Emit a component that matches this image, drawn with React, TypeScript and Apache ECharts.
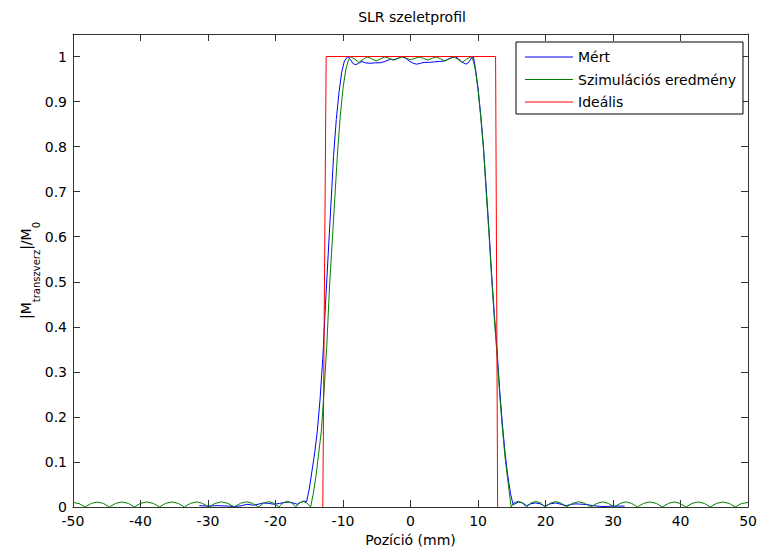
import React, { useEffect, useRef } from "react";
import * as echarts from "echarts";

// Labels
const chartTitle = "SLR szeletprofil";
const xAxisTitle = "Pozíció (mm)";
const yAxisTitleRich = "{m||M}{s|transzverz}{m||/M}{s|0}";
const seriesNames = ["Mért", "Szimulációs eredmény", "Ideális"];
const seriesColors = ["#0000ff", "#008000", "#ff0000"];

// Axis ranges
const xRange = [-50, 50];
const xStep = 10;
const yRange = [0, 1.05];
const yStep = 0.1;

// Measured slice profile: [position (mm), |Mxy|/M0]
const measuredProfile: [number, number][] = [
  [-31.3, 0.003], [-30.0, 0.002], [-28.5, 0.003], [-27.0, 0.002], [-26.0, 0.001],
  [-25.0, 0.003], [-24.2, 0.006], [-23.3, 0.004], [-22.6, 0.006], [-21.8, 0.009],
  [-21.0, 0.008], [-20.2, 0.006], [-19.4, 0.008], [-18.7, 0.01], [-18.0, 0.011],
  [-17.4, 0.009], [-16.8, 0.006], [-16.2, 0.011], [-15.8, 0.013], [-15.4, 0.012],
  [-15.0, 0.04], [-14.6, 0.08], [-14.2, 0.12], [-13.8, 0.17], [-13.4, 0.24],
  [-13.0, 0.33], [-12.6, 0.45], [-12.2, 0.56], [-11.8, 0.67], [-11.4, 0.78],
  [-11.0, 0.86], [-10.6, 0.92], [-10.2, 0.965], [-9.8, 0.99], [-9.3, 1.0],
  [-8.9, 0.993], [-8.5, 0.984], [-8.1, 0.982], [-7.7, 0.985], [-7.2, 0.989],
  [-6.7, 0.986], [-6.0, 0.985], [-5.2, 0.986], [-4.5, 0.986], [-3.8, 0.989],
  [-3.0, 0.994], [-2.4, 0.993], [-1.8, 0.996], [-1.3, 1.0], [-0.8, 0.997],
  [-0.2, 0.99], [0.4, 0.985], [0.9, 0.983], [1.5, 0.985], [2.0, 0.987],
  [2.8, 0.987], [3.5, 0.988], [4.3, 0.989], [5.0, 0.99], [5.8, 0.996],
  [6.6, 1.0], [7.1, 0.995], [7.6, 0.988], [8.2, 0.983], [8.6, 0.987],
  [9.0, 0.996], [9.3, 1.0], [9.6, 0.975], [10.0, 0.93], [10.4, 0.87],
  [10.8, 0.8], [11.2, 0.71], [11.6, 0.62], [12.0, 0.52], [12.4, 0.43],
  [12.8, 0.35], [13.2, 0.26], [13.6, 0.185], [14.0, 0.12], [14.4, 0.07],
  [14.8, 0.03], [15.2, 0.005], [15.6, 0.008], [16.0, 0.011], [16.5, 0.01],
  [17.2, 0.003], [17.8, 0.007], [18.5, 0.009], [19.2, 0.007], [19.9, 0.002],
  [20.7, 0.007], [21.5, 0.009], [22.3, 0.006], [23.1, 0.003], [23.8, 0.006],
  [24.5, 0.007], [25.5, 0.006], [26.3, 0.005], [27.0, 0.003], [28.5, 0.001],
  [30.0, 0.002], [31.7, 0.002],
];

// Simulated slice profile
const simulatedProfile: [number, number][] = [
  [-50, 0.01], [-49.1, 0.0075], [-48.2, 0], [-47.3, 0.008], [-46.4, 0.011],
  [-45.5, 0.008], [-44.6, 0], [-43.7, 0.008], [-42.75, 0.0112], [-41.8, 0.008],
  [-40.9, 0], [-40.0, 0.008], [-39.05, 0.0113], [-38.1, 0.008], [-37.2, 0],
  [-36.3, 0.008], [-35.35, 0.0113], [-34.4, 0.008], [-33.5, 0], [-32.6, 0.008],
  [-31.7, 0.0114], [-30.8, 0.008], [-29.9, 0], [-28.95, 0.008], [-28.0, 0.0115],
  [-27.05, 0.008], [-26.1, 0], [-25.2, 0.0082], [-24.3, 0.0116], [-23.4, 0.0082],
  [-22.5, 0], [-21.75, 0.0085], [-21.0, 0.012], [-20.25, 0.0085], [-19.5, 0],
  [-18.9, 0.009], [-18.25, 0.0125], [-17.6, 0.009], [-17.0, 0], [-16.45, 0.009],
  [-15.9, 0.0125], [-15.35, 0.009], [-14.8, 0], [-14.4, 0.03], [-14.0, 0.07],
  [-13.6, 0.12], [-13.2, 0.17], [-12.8, 0.26], [-12.4, 0.36], [-12.0, 0.49],
  [-11.6, 0.59], [-11.2, 0.69], [-10.8, 0.79], [-10.4, 0.87], [-10.0, 0.93],
  [-9.6, 0.97], [-9.2, 0.992], [-8.9, 1.0], [-8.25, 0.994], [-7.65, 0.987],
  [-7.0, 0.994], [-6.4, 0.999], [-5.75, 0.995], [-5.1, 0.99], [-4.45, 0.995],
  [-3.8, 0.999], [-3.15, 0.996], [-2.55, 0.992], [-1.9, 0.996], [-1.3, 0.999],
  [-0.65, 0.996], [0, 0.993], [0.65, 0.996], [1.3, 0.999], [1.9, 0.996],
  [2.55, 0.992], [3.15, 0.996], [3.8, 0.999], [4.45, 0.995], [5.1, 0.99],
  [5.75, 0.995], [6.35, 0.999], [7.0, 0.994], [7.65, 0.987], [8.3, 0.994],
  [9.0, 1.0], [9.3, 0.99], [9.6, 0.97], [10.0, 0.925], [10.4, 0.865],
  [10.8, 0.795], [11.2, 0.7], [11.6, 0.61], [12.0, 0.51], [12.4, 0.42],
  [12.8, 0.34], [13.2, 0.25], [13.6, 0.175], [14.0, 0.11], [14.4, 0.06],
  [14.9, 0], [15.3, 0.009], [15.9, 0.0125], [16.55, 0.009], [17.2, 0],
  [17.85, 0.009], [18.55, 0.0125], [19.25, 0.009], [19.9, 0], [20.7, 0.0085],
  [21.5, 0.012], [22.3, 0.0085], [23.1, 0], [24.0, 0.0082], [24.9, 0.0116],
  [25.8, 0.0082], [26.7, 0], [27.6, 0.008], [28.45, 0.0115], [29.3, 0.008],
  [30.2, 0], [31.05, 0.008], [31.9, 0.0114], [32.75, 0.008], [33.6, 0],
  [34.5, 0.008], [35.45, 0.0113], [36.4, 0.008], [37.3, 0], [38.2, 0.008],
  [39.05, 0.0113], [39.9, 0.008], [40.8, 0], [41.7, 0.008], [42.6, 0.0112],
  [43.5, 0.008], [44.4, 0], [45.3, 0.008], [46.25, 0.011], [47.2, 0.008],
  [48.1, 0], [49.0, 0.0075], [50, 0.01],
];

// Ideal rectangular slice
const idealProfile: [number, number][] = [
  [-13.0, 0], [-12.5, 1], [12.6, 1], [12.9, 0],
];

const FONT = "DejaVu Sans";
const FONT_SIZE = 14;
const AXIS_COLOR = "#333333";

// Plot box in pixels
const GRID = { left: 73, top: 34, width: 678, height: 473 };

const yLabel = (v: number) => {
  const t = Math.round(v * 10) / 10;
  return Math.abs(v - t) < 1e-6 ? String(t) : "";
};

export default function App() {
  const ref = useRef<HTMLDivElement>(null);

  useEffect(() => {
    if (!ref.current) return;
    const chart = echarts.init(ref.current, undefined, { renderer: "svg" });

    const axisLine = { show: true, onZero: false, lineStyle: { color: AXIS_COLOR, width: 1 } };
    const axisTick = { show: true, inside: true, length: 7, lineStyle: { color: AXIS_COLOR, width: 1 } };
    const labelStyle = { color: "#000", fontSize: FONT_SIZE, fontFamily: FONT };

    const profiles = [measuredProfile, simulatedProfile, idealProfile];

    chart.setOption({
      animation: false,
      backgroundColor: "#ffffff",
      textStyle: { fontFamily: FONT },
      graphic: [
        {
          type: "text",
          x: GRID.left + GRID.width / 2,
          y: 17,
          style: {
            text: chartTitle,
            fill: "#000",
            fontSize: FONT_SIZE,
            fontFamily: FONT,
            align: "center",
            verticalAlign: "middle",
          },
        },
        {
          // Rotated y-axis title with subscripts
          type: "text",
          x: 27,
          y: GRID.top + GRID.height / 2,
          rotation: Math.PI / 2,
          style: {
            text: yAxisTitleRich,
            align: "center",
            verticalAlign: "middle",
            rich: {
              m: { fontSize: FONT_SIZE, fontFamily: FONT, fill: "#000", lineHeight: 16, verticalAlign: "top" },
              s: {
                fontSize: 10,
                fontFamily: FONT,
                fill: "#000",
                lineHeight: 12,
                verticalAlign: "top",
                padding: [12, 0, 0, 0],
              },
            },
          },
        },
      ],
      grid: { ...GRID, containLabel: false },
      legend: {
        orient: "vertical",
        left: 516,
        top: 42,
        icon: "rect",
        itemWidth: 48,
        itemHeight: 1,
        itemGap: 6.5,
        padding: [7, 7, 4, 9],
        borderColor: "#000",
        borderWidth: 1,
        backgroundColor: "#fff",
        selectedMode: false,
        textStyle: { ...labelStyle, lineHeight: 16 },
        data: seriesNames,
      },
      xAxis: [
        {
          type: "value",
          position: "bottom",
          min: xRange[0],
          max: xRange[1],
          interval: xStep,
          axisLine,
          axisTick,
          splitLine: { show: false },
          axisLabel: { ...labelStyle, margin: 7 },
          name: xAxisTitle,
          nameLocation: "middle",
          nameGap: 23,
          nameTextStyle: { ...labelStyle },
        },
        {
          type: "value",
          position: "top",
          min: xRange[0],
          max: xRange[1],
          interval: xStep,
          axisLine,
          axisTick,
          splitLine: { show: false },
          axisLabel: { show: false },
        },
      ],
      yAxis: [
        {
          type: "value",
          position: "left",
          min: yRange[0],
          max: yRange[1],
          interval: yStep,
          axisLine,
          axisTick,
          splitLine: { show: false },
          axisLabel: { ...labelStyle, margin: 6, formatter: yLabel },
        },
        {
          type: "value",
          position: "right",
          min: yRange[0],
          max: yRange[1],
          interval: yStep,
          axisLine,
          axisTick,
          splitLine: { show: false },
          axisLabel: { show: false },
        },
      ],
      series: seriesNames.map((name, i) => ({
        name,
        type: "line",
        data: profiles[i],
        xAxisIndex: 0,
        yAxisIndex: 0,
        symbol: "none",
        showSymbol: false,
        lineStyle: { color: seriesColors[i], width: 1 },
        itemStyle: { color: seriesColors[i] },
        z: 2 + i,
      })),
    });

    return () => chart.dispose();
  }, []);

  return <div ref={ref} style={{ width: 760, height: 552, position: "absolute", left: 0, top: 0 }} />;
}
